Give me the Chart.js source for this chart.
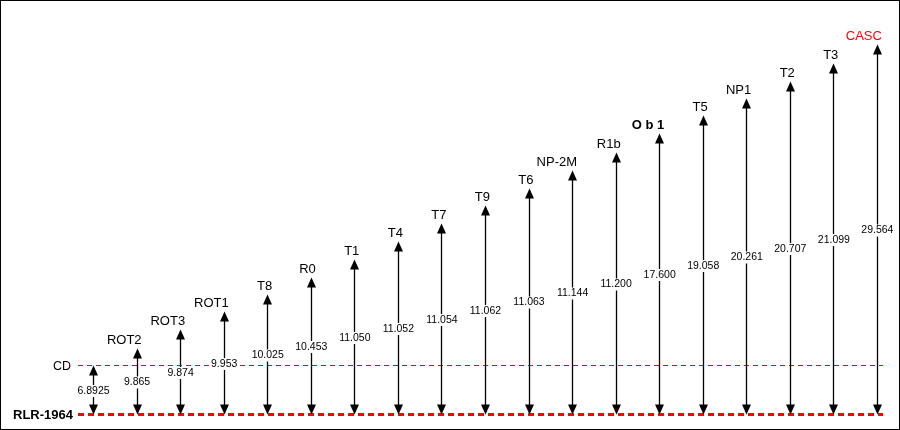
<!DOCTYPE html>
<html>
<head>
<meta charset="utf-8">
<script src="https://cdn.jsdelivr.net/npm/chart.js@4.4.1/dist/chart.umd.min.js"></script>
<style>
  html, body { margin: 0; padding: 0; background: #fff; }
  canvas { display: block; }
</style>
</head>
<body>
<canvas id="chart" width="900" height="430"></canvas>
<script>
// benchmark names, left to right (the first arrow is the CD datum itself)
const categories = ['CD', 'ROT2', 'ROT3', 'ROT1', 'T8', 'R0', 'T1', 'T4', 'T7', 'T9',
  'T6', 'NP-2M', 'R1b', 'O b 1', 'T5', 'NP1', 'T2', 'T3', 'CASC']
// heights above RLR-1964 written on each arrow
const heightLabels = ['6.8925', '9.865', '9.874', '9.953', '10.025', '10.453', '11.050',
  '11.052', '11.054', '11.062', '11.063', '11.144', '11.200', '17.600', '19.058',
  '20.261', '20.707', '21.099', '29.564']
// schematic arrow level (the drawing is not to scale)
const arrowLevels = [49, 66, 85, 103, 120, 137, 155, 173, 191, 209, 226, 244, 262,
  281, 299, 316, 333, 351, 370]
const rlrLevel = 0
const cdLevel = 49

const labelFont = '"Liberation Sans", Arial, sans-serif'

const arrowPoints = categories.map((c, i) => ({ x: i, y: arrowLevels[i] }))

function head(ctx, x, y, dir) {
  ctx.beginPath()
  ctx.moveTo(x, y)
  ctx.lineTo(x - 4.5, y + dir * 10)
  ctx.lineTo(x + 4.5, y + dir * 10)
  ctx.closePath()
  ctx.fill()
}

const arrowsPlugin = {
  id: 'arrows',
  afterDatasetsDraw(chart) {
    const { ctx, scales: { x, y } } = chart
    const base = y.getPixelForValue(rlrLevel)
    ctx.save()
    ctx.strokeStyle = '#000'
    ctx.fillStyle = '#000'
    ctx.lineWidth = 1.3
    arrowPoints.forEach(p => {
      const px = Math.round(x.getPixelForValue(p.x)) + 0.5
      const top = y.getPixelForValue(p.y)
      ctx.beginPath()
      ctx.moveTo(px, top + 4)
      ctx.lineTo(px, base - 4)
      ctx.stroke()
      head(ctx, px, top, 1)
      head(ctx, px, base, -1)
    })

    // names above the arrows
    ctx.textAlign = 'right'
    ctx.textBaseline = 'alphabetic'
    categories.forEach((c, i) => {
      if (i === 0) return
      const px = x.getPixelForValue(i)
      const top = y.getPixelForValue(arrowLevels[i])
      ctx.fillStyle = c === 'CASC' ? '#ff0000' : '#000'
      ctx.font = (c === 'O b 1' ? 'bold ' : '') + '13px ' + labelFont
      ctx.fillText(c, px + 5, top - 5)
    })

    // heights at mid arrow, on white
    ctx.font = '10.5px ' + labelFont
    ctx.textAlign = 'center'
    ctx.textBaseline = 'middle'
    heightLabels.forEach((t, i) => {
      const px = x.getPixelForValue(i)
      const mid = y.getPixelForValue(arrowLevels[i] / 2) + 1
      const w = ctx.measureText(t).width
      ctx.fillStyle = '#fff'
      ctx.fillRect(px - w / 2 - 1, mid - 6, w + 2, 12)
      ctx.fillStyle = '#000'
      ctx.fillText(t, px + 0.5, mid)
    })

    // datum names on the left
    ctx.textAlign = 'right'
    ctx.fillStyle = '#000'
    ctx.font = '12.5px ' + labelFont
    ctx.fillText(categories[0], 71, y.getPixelForValue(cdLevel) + 1)
    ctx.font = 'bold 13px ' + labelFont
    ctx.fillText('RLR-1964', 73, base + 1)

    // frame
    ctx.strokeStyle = '#000'
    ctx.lineWidth = 1
    ctx.strokeRect(0.5, 0.5, chart.width - 1, chart.height - 1)
    ctx.restore()
  }
}

new Chart(document.getElementById('chart'), {
  type: 'scatter',
  data: {
    datasets: [
      {
        label: 'RLR-1964',
        data: [{ x: -0.345, y: rlrLevel }, { x: 18.14, y: rlrLevel }],
        showLine: true,
        borderColor: '#ff0000',
        borderWidth: 3,
        borderDash: [6, 4],
        pointRadius: 0
      },
      {
        label: 'CD',
        data: [{ x: -0.345, y: cdLevel }, { x: 18.14, y: cdLevel }],
        showLine: true,
        borderColor: '#ff0000',
        borderWidth: 1,
        borderDash: [5, 4],
        pointRadius: 0
      },
      {
        label: 'benchmarks',
        data: arrowPoints,
        pointRadius: 0
      }
    ]
  },
  options: {
    responsive: false,
    animation: false,
    layout: { padding: { left: 78, right: 17, top: 14, bottom: 0 } },
    plugins: {
      legend: { display: false },
      tooltip: { enabled: false }
    },
    scales: {
      x: { type: 'linear', display: false, min: -0.345, max: 18.14 },
      y: { type: 'linear', display: false, min: -15.5, max: 400.5 }
    }
  },
  plugins: [arrowsPlugin]
})
</script>
</body>
</html>
